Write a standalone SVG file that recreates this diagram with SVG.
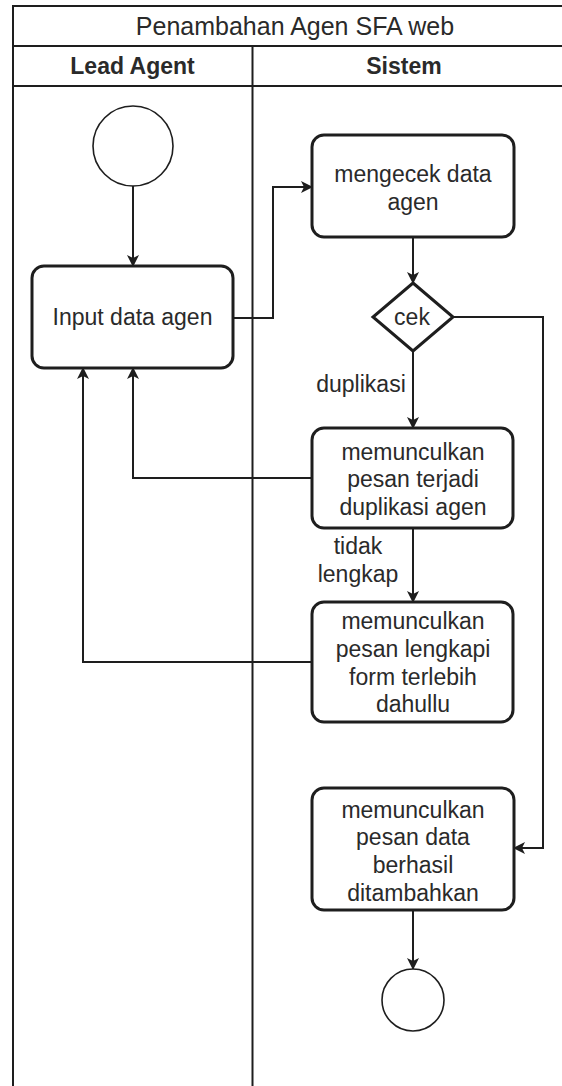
<svg xmlns="http://www.w3.org/2000/svg" width="562" height="1086" viewBox="0 0 562 1086">
  <style>
    .pool { fill: #ffffff; stroke: #1e1e1e; stroke-width: 2; }
    .lane { fill: none; stroke: #1e1e1e; stroke-width: 2; }
    .task { fill: #ffffff; stroke: #1e1e1e; stroke-width: 3; }
    .event { fill: #ffffff; stroke: #1e1e1e; stroke-width: 1.6; }
    .edge { fill: none; stroke: #1e1e1e; stroke-width: 2; }
    text { font-family: "Liberation Sans", Arial, sans-serif; font-size: 23px; fill: #2a2a2a; text-anchor: middle; }
    .title { font-size: 25px; }
    .head { font-weight: bold; }
  </style>
  <defs>
    <marker id="arrow" viewBox="0 0 12 12" refX="11" refY="6" markerWidth="12" markerHeight="12" markerUnits="userSpaceOnUse" orient="auto">
      <path d="M0,0 L12,6 L0,12 L3,6 Z" fill="#1e1e1e"/>
    </marker>
  </defs>

  <rect width="562" height="1086" fill="#ffffff"/>

  <!-- pool with title row and two lanes -->
  <g id="pool">
    <rect class="pool" x="13" y="6" width="560" height="1100"/>
    <line class="lane" x1="13" y1="46" x2="573" y2="46"/>
    <line class="lane" x1="13" y1="86" x2="573" y2="86"/>
    <line class="lane" x1="252.5" y1="46" x2="252.5" y2="1100"/>
    <text class="title" x="295" y="35">Penambahan Agen SFA web</text>
    <text class="head" x="132.5" y="74">Lead Agent</text>
    <text class="head" x="404" y="74">Sistem</text>
  </g>

  <!-- connectors -->
  <g id="connectors">
    <path class="edge" d="M133,186 V266" marker-end="url(#arrow)"/>
    <path class="edge" d="M233,318 H273 V187 H312" marker-end="url(#arrow)"/>
    <path class="edge" d="M413,237 V283" marker-end="url(#arrow)"/>
    <path class="edge" d="M413,351 V428" marker-end="url(#arrow)"/>
    <path class="edge" d="M453,317 H543 V848 H514" marker-end="url(#arrow)"/>
    <path class="edge" d="M312,478 H133 V368" marker-end="url(#arrow)"/>
    <path class="edge" d="M413,528 V602" marker-end="url(#arrow)"/>
    <path class="edge" d="M312,662 H83 V368" marker-end="url(#arrow)"/>
    <path class="edge" d="M413,910 V969" marker-end="url(#arrow)"/>
    <text x="361" y="392">duplikasi</text>
    <text x="358" y="554">tidak</text>
    <text x="358" y="582">lengkap</text>
  </g>

  <g id="start">
    <circle class="event" cx="133" cy="146" r="40"/>
  </g>

  <g id="input-data-agen">
    <rect class="task" x="32" y="266" width="201" height="102" rx="12"/>
    <text x="132.5" y="325">Input data agen</text>
  </g>

  <g id="mengecek-data-agen">
    <rect class="task" x="312" y="135" width="202" height="102" rx="12"/>
    <text x="413" y="182">mengecek data</text>
    <text x="413" y="210">agen</text>
  </g>

  <g id="cek">
    <polygon class="task" points="413,283 453,317 413,351 373,317"/>
    <text x="412" y="325">cek</text>
  </g>

  <g id="pesan-duplikasi">
    <rect class="task" x="312" y="428" width="201" height="100" rx="12"/>
    <text x="413" y="460">memunculkan</text>
    <text x="413" y="487">pesan terjadi</text>
    <text x="413" y="515">duplikasi agen</text>
  </g>

  <g id="pesan-lengkapi">
    <rect class="task" x="312" y="602" width="201" height="120" rx="12"/>
    <text x="413" y="629">memunculkan</text>
    <text x="413" y="657">pesan lengkapi</text>
    <text x="413" y="685">form terlebih</text>
    <text x="413" y="712">dahullu</text>
  </g>

  <g id="pesan-berhasil">
    <rect class="task" x="312" y="788" width="202" height="122" rx="12"/>
    <text x="413" y="818">memunculkan</text>
    <text x="413" y="845">pesan data</text>
    <text x="413" y="873">berhasil</text>
    <text x="413" y="901">ditambahkan</text>
  </g>

  <g id="end">
    <circle class="event" cx="413" cy="1000" r="31"/>
  </g>
</svg>
